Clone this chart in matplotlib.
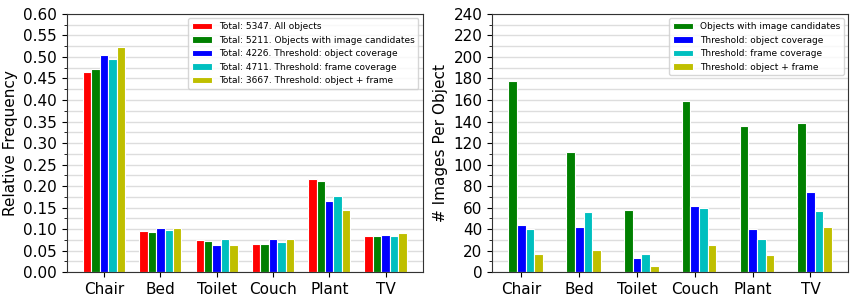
import numpy as np
import matplotlib
matplotlib.use('Agg')
import matplotlib.pyplot as plt
from matplotlib.ticker import MultipleLocator

categories = ['Chair', 'Bed', 'Toilet', 'Couch', 'Plant', 'TV']

# relative frequency per category
freqAll = [0.465, 0.095, 0.074, 0.065, 0.217, 0.084]
freqCand = [0.471, 0.094, 0.072, 0.066, 0.212, 0.084]
freqObj = [0.504, 0.102, 0.064, 0.078, 0.165, 0.086]
freqFrame = [0.496, 0.097, 0.076, 0.070, 0.178, 0.083]
freqBoth = [0.524, 0.102, 0.062, 0.077, 0.144, 0.091]

freqLabels = ['Total: 5347. All objects',
              'Total: 5211. Objects with image candidates',
              'Total: 4226. Threshold: object coverage',
              'Total: 4711. Threshold: frame coverage',
              'Total: 3667. Threshold: object + frame']

# images per object
imgCand = [178, 112, 58, 159, 136, 139]
imgObj = [44, 42, 13, 61, 40, 74]
imgFrame = [40, 56, 17, 60, 31, 57]
imgBoth = [17, 21, 6, 25, 16, 42]

imgLabels = ['Objects with image candidates',
             'Threshold: object coverage',
             'Threshold: frame coverage',
             'Threshold: object + frame']

colors = ['r', 'g', 'b', 'c', 'y']
width = 0.15
x = np.arange(len(categories))

fig = plt.figure(figsize=(8.56, 3.03), dpi=100)
ax1 = fig.add_axes([0.078, 0.102, 0.416, 0.852])
ax2 = fig.add_axes([0.575, 0.102, 0.416, 0.852])

def styleAxis(ax):
    ax.set_axisbelow(True)
    ax.yaxis.grid(True, which='both', color='#dddddd', linewidth=1.0)
    ax.tick_params(axis='y', labelsize=11)
    ax.tick_params(axis='x', labelsize=11)
    for s in ax.spines.values():
        s.set_color('#333333')

freqSeries = [freqAll, freqCand, freqObj, freqFrame, freqBoth]
for i, vals in enumerate(freqSeries):
    ax1.bar(x + (i - 2) * width, vals, width, color=colors[i],
            edgecolor='white', linewidth=0.8, label=freqLabels[i])
ax1.set_xticks(x)
ax1.set_xticklabels(categories)
ax1.set_ylim(0, 0.6)
ax1.yaxis.set_major_locator(MultipleLocator(0.05))
ax1.yaxis.set_minor_locator(MultipleLocator(0.025))
ax1.set_ylabel('Relative Frequency', fontsize=11)
styleAxis(ax1)
ax1.legend(loc='upper right', fontsize=6.5, handlelength=2.2)

imgSeries = [imgCand, imgObj, imgFrame, imgBoth]
for i, vals in enumerate(imgSeries):
    ax2.bar(x + (i - 1) * width, vals, width, color=colors[i + 1],
            edgecolor='white', linewidth=0.8, label=imgLabels[i])
ax2.set_xticks(x)
ax2.set_xticklabels(categories)
ax2.set_ylim(0, 240)
ax2.yaxis.set_major_locator(MultipleLocator(20))
ax2.yaxis.set_minor_locator(MultipleLocator(10))
ax2.set_ylabel('# Images Per Object', fontsize=11)
styleAxis(ax2)
ax2.legend(loc='upper right', fontsize=6.5, handlelength=2.2)

fig.savefig('out.png', dpi=100)
